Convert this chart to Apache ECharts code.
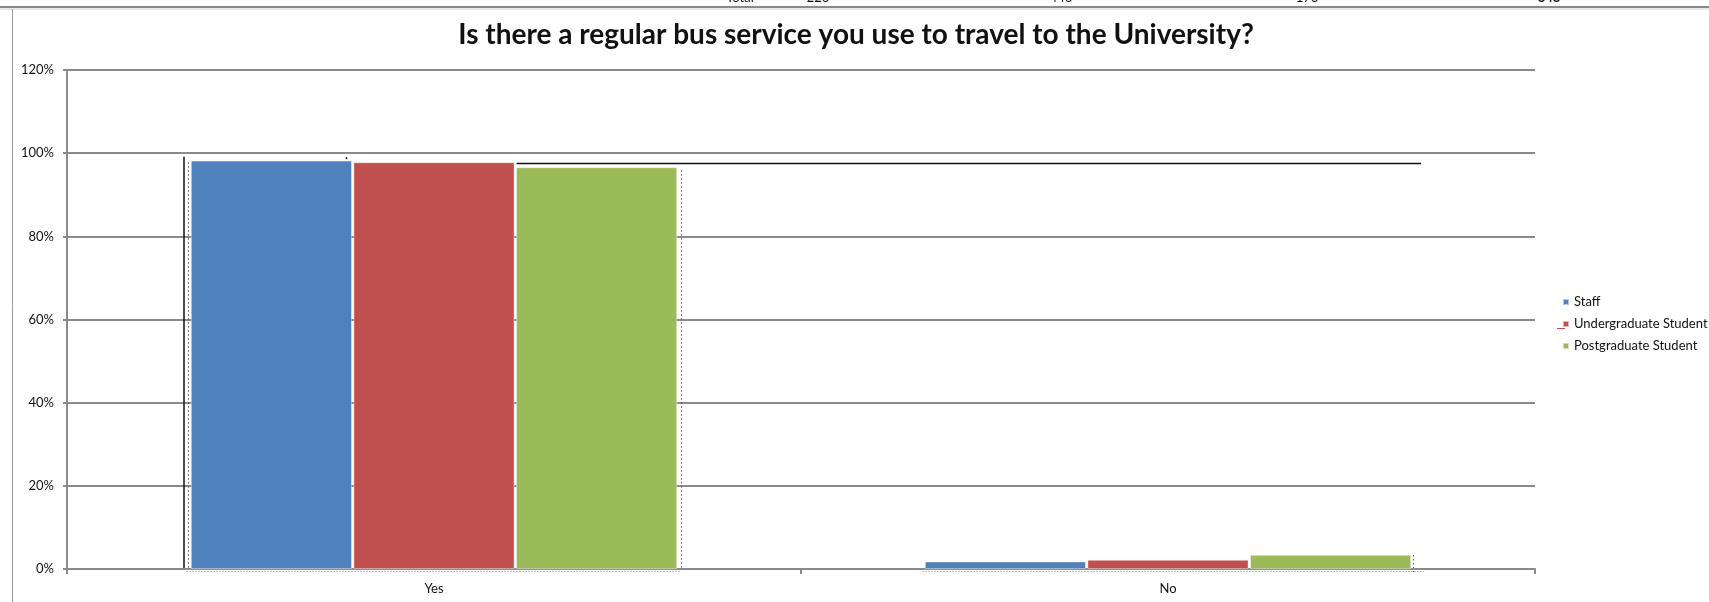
<!DOCTYPE html>
<html>
<head>
<meta charset="utf-8">
<script src="https://cdn.jsdelivr.net/npm/echarts@6/dist/echarts.min.js"></script>
<style>
  html, body { margin: 0; padding: 0; background: #fff; }
  #chart { width: 1709px; height: 602px; }
</style>
</head>
<body>
<div id="chart"></div>
<script>
// Survey answers, share of each respondent group (%)
const categories = ['Yes', 'No'];
const seriesNames = ['Staff', 'Undergraduate Student', 'Postgraduate Student'];
const staff = [98.2, 1.8];
const undergrad = [97.8, 2.2];
const postgrad = [96.6, 3.4];
// Spreadsheet totals row peeking in above the chart
const totalsRow = ['Total', '226', '446', '176', '848'];

const colors = ['#4F81BD', '#C0504D', '#9BBB59'];
const font = 'Lato, Calibri, "Noto Sans", sans-serif';
const gray = '#8a8a8a';

const chart = echarts.init(document.getElementById('chart'), null, { renderer: 'canvas' });

const values = [staff, undergrad, postgrad];
const series = seriesNames.map((name, i) => ({
  name,
  type: 'bar',
  data: values[i],
  barWidth: 161,
  barGap: '1%',
  itemStyle: { color: colors[i], borderColor: 'rgba(255,255,255,0.55)', borderWidth: 0.8 },
  emphasis: { disabled: true }
}));

chart.setOption({
  animation: false,
  backgroundColor: '#fff',
  textStyle: { fontFamily: font },
  title: {
    text: 'Is there a regular bus service you use to travel to the University?',
    left: 851,
    textAlign: 'center',
    top: 16,
    textStyle: { fontFamily: font, fontWeight: 'bold', fontSize: 28, color: '#111' }
  },
  legend: {
    orient: 'vertical',
    left: 1557,
    top: 290,
    itemWidth: 6,
    itemHeight: 6,
    itemGap: 8,
    icon: 'rect',
    data: seriesNames,
    textStyle: { fontFamily: font, fontSize: 13, color: '#111', lineHeight: 14 }
  },
  grid: { left: 67, right: 174, top: 70, bottom: 33, containLabel: false },
  xAxis: {
    type: 'category',
    data: categories,
    axisLine: { lineStyle: { color: gray, width: 2 } },
    axisTick: { show: true, length: 5, lineStyle: { color: gray, width: 2 } },
    axisLabel: { fontFamily: font, fontSize: 13, color: '#111', margin: 13 }
  },
  yAxis: {
    type: 'value',
    min: 0,
    max: 120,
    interval: 20,
    axisLine: { show: true, lineStyle: { color: gray, width: 2 } },
    axisTick: { show: true, length: 4, lineStyle: { color: gray, width: 2 } },
    axisLabel: { formatter: '{value}%', fontFamily: font, fontSize: 13, color: '#111', margin: 13 },
    splitLine: { show: true, lineStyle: { color: gray, width: 2 } }
  },
  series
});

// Stray drawing objects left on the sheet around the plot
const px = (cat, v) => chart.convertToPixel({ xAxisIndex: 0, yAxisIndex: 0 }, [cat, v]);
const y0 = px(0, 0)[1];
const yRef = px(0, 97.5)[1];
const y100 = px(0, 100)[1];

const dotted = { stroke: '#555', lineWidth: 1, lineDash: [1.5, 2.5] };
const graphics = [
  // sheet border lines
  { type: 'line', shape: { x1: 0, y1: 7, x2: 1709, y2: 7 }, style: { stroke: '#8a8a8a', lineWidth: 2 } },
  { type: 'line', shape: { x1: 0, y1: 9, x2: 1709, y2: 9 }, style: { stroke: '#d0d0d0', lineWidth: 1 } },
  { type: 'line', shape: { x1: 12.5, y1: 9, x2: 12.5, y2: 602 }, style: { stroke: '#9a9a9a', lineWidth: 1 } },
  // reference lines
  { type: 'line', shape: { x1: 184, y1: y100 + 3.5, x2: 184, y2: y0 }, style: { stroke: '#111', lineWidth: 1.5 } },
  { type: 'line', shape: { x1: 516.5, y1: yRef, x2: 1421, y2: yRef }, style: { stroke: '#111', lineWidth: 1.5 } },
  { type: 'line', shape: { x1: 188.5, y1: y100 + 9, x2: 188.5, y2: y0 }, style: dotted },
  { type: 'line', shape: { x1: 681.5, y1: y100 + 17, x2: 681.5, y2: y0 }, style: dotted },
  { type: 'line', shape: { x1: 1413.5, y1: y0 - 14, x2: 1413.5, y2: y0 + 3 }, style: dotted },
  { type: 'line', shape: { x1: 346.5, y1: y100 + 4, x2: 346.5, y2: y100 + 6 }, style: { stroke: '#111', lineWidth: 1.5 } },
  { type: 'line', shape: { x1: 186, y1: y0 + 2.5, x2: 680, y2: y0 + 2.5 }, style: { stroke: '#bbb', lineWidth: 1, lineDash: [2, 1] } },
  { type: 'line', shape: { x1: 922, y1: y0 + 2.5, x2: 1424, y2: y0 + 2.5 }, style: { stroke: '#bbb', lineWidth: 1, lineDash: [2, 1] } },
  // underline under the second legend marker
  { type: 'line', shape: { x1: 1557, y1: 328.5, x2: 1565, y2: 328.5 }, style: { stroke: '#C0504D', lineWidth: 1 } }
];
// totals row text, mostly hidden above the border
const totalsX = [740, 818, 1061, 1307, 1549];
totalsRow.forEach((t, i) => {
  graphics.push({
    type: 'text',
    x: totalsX[i],
    y: 4,
    style: {
      text: t,
      fontFamily: font,
      fontSize: 13,
      fontWeight: i === totalsRow.length - 1 ? 'bold' : 'normal',
      fill: '#111',
      align: 'center',
      verticalAlign: 'bottom'
    }
  });
});
chart.setOption({ graphic: graphics });
</script>
</body>
</html>
